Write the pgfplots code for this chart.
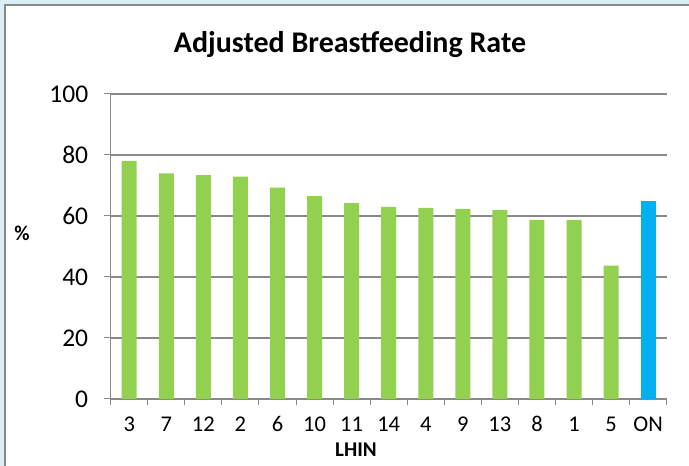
\documentclass[border=0pt]{standalone}
\usepackage{pgfplots}
\pgfplotsset{compat=1.18}
\usepackage{fontspec}
\setmainfont{Carlito}
\definecolor{barg}{HTML}{92D050}
\definecolor{barb}{HTML}{00B0F0}
\definecolor{gridg}{HTML}{898989}
\definecolor{bgblue}{HTML}{DAEEF3}
\begin{document}
\begin{tikzpicture}[x=1pt,y=1pt]
\useasboundingbox (0,0) rectangle (689,466);
\fill[bgblue] (0,0) rectangle (689,466);
\fill[white] (5,0) rectangle (689,461);
\draw[gridg,line width=1.5pt] (5,0) -- (5,461) -- (689,461);
\begin{axis}[
  at={(110.7pt,67pt)}, anchor=south west,
  width=556pt, height=305pt, scale only axis=true,
  xmin=-0.5, xmax=14.5, ymin=0, ymax=100,
  ytick={0,20,...,100},
  xtick={0,...,14},
  xticklabels={3,7,12,2,6,10,11,14,4,9,13,8,1,5,ON},
  minor xtick={-0.5,0.5,...,14.5},
  major x tick style={draw=none},
  minor x tick style={gridg,line width=1pt},
  minor tick length=6pt,
  y tick style={gridg,line width=1pt},
  major tick length=7pt,
  tick align=outside,
  ymajorgrids=true,
  grid style={gridg,line width=1.5pt},
  axis x line*=bottom, axis y line*=left,
  axis line style={gridg,line width=1.5pt},
  x axis line style={-}, y axis line style={-},
  typeset ticklabels with strut,
  tick label style={font=\fontsize{22.5}{26}\selectfont},
  yticklabel style={font=\fontsize{25.5}{30}\selectfont, xshift=-12pt, yshift=-2.5pt},
  xticklabel style={yshift=-4pt},
  ybar, bar width=15pt, bar shift=0pt,
  clip=false,
  /pgf/number format/assume math mode=true,
]
\addplot[fill=barg, draw=none] coordinates {
(0,78.1) (1,74.0) (2,73.4) (3,72.9) (4,69.3) (5,66.5) (6,64.2) (7,63.0)
(8,62.7) (9,62.3) (10,62.0) (11,58.7) (12,58.7) (13,43.7)};
\addplot[fill=barb, draw=none] coordinates {(14,64.9)};
\end{axis}
\node[font=\bfseries\fontsize{30}{34}\selectfont] at (350,421) {Adjusted Breastfeeding Rate};
\node[font=\bfseries\fontsize{21}{24}\selectfont] at (22,233) {\%};
\node[font=\bfseries\fontsize{21}{24}\selectfont] at (356,16) {LHIN};
\end{tikzpicture}
\end{document}
